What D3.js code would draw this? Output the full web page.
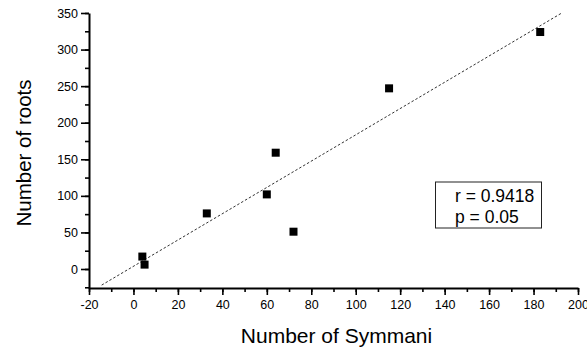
<!DOCTYPE html>
<html>
<head>
<meta charset="utf-8">
<script src="https://cdn.jsdelivr.net/npm/d3@7"></script>
<style>
  body { margin: 0; background: #fff; }
  svg { font-family: "Liberation Sans", Arial, sans-serif; }
</style>
</head>
<body>
<svg id="chart" width="587" height="350"></svg>
<script>
// points
const symmani = [4, 5, 33, 60, 72, 64, 115, 183];
const roots   = [17, 6, 76, 102, 51, 159, 247, 324];

// dashed fit line ends
const fitX = [-14.3, 192.7];
const fitY = [-22, 350];

const xTicks = [-20, 0, 20, 40, 60, 80, 100, 120, 140, 160, 180, 200];
const yTicks = [0, 50, 100, 150, 200, 250, 300, 350];
const statLines = ["r = 0.9418", "p = 0.05"];

var svg = d3.select("#chart");
var pl = 89, pr = 578, pt = 13, pb = 288;

var x = d3.scaleLinear().domain([-20, 200]).range([pl, pr]);
// 0 sits at y=269, 350 at the top
var y0 = d3.scaleLinear().domain([0, 350]).range([269, pt]);
var y = d3.scaleLinear().domain([y0.invert(pb), 350]).range([pb, pt]);

var fmt = d => String(d);

// minor ticks first
svg.append("g")
	.attr("transform", "translate(0," + pb + ")")
	.call(d3.axisBottom(x).tickValues(d3.range(-20, 201, 10)).tickSize(4).tickFormat(""))
	.call(g => g.select(".domain").remove());
svg.append("g")
	.attr("transform", "translate(" + pl + ",0)")
	.call(d3.axisLeft(y).tickValues(d3.range(-25, 351, 25).filter(v => v >= y.domain()[0])).tickSize(4).tickFormat(""))
	.call(g => g.select(".domain").remove());

svg.append("g")
	.attr("transform", "translate(0," + pb + ")")
	.call(d3.axisBottom(x).tickValues(xTicks).tickSize(7).tickPadding(5).tickSizeOuter(0).tickFormat(fmt));
svg.append("g")
	.attr("transform", "translate(" + pl + ",0)")
	.call(d3.axisLeft(y).tickValues(yTicks).tickSize(8).tickPadding(3).tickSizeOuter(0).tickFormat(fmt));

svg.selectAll(".tick line").attr("stroke", "#000").attr("stroke-width", 1.6);
svg.selectAll(".domain").attr("stroke", "#000").attr("stroke-width", 2);
svg.selectAll(".tick text").attr("font-size", 12.5).attr("fill", "#000")
	.attr("font-family", "Liberation Sans, Arial, sans-serif");

// fit line
svg.append("line")
	.attr("x1", x(fitX[0])).attr("y1", y(fitY[0]))
	.attr("x2", x(fitX[1])).attr("y2", y(fitY[1]))
	.attr("stroke", "#333")
	.attr("stroke-width", 1)
	.attr("stroke-dasharray", "2.5,2");

// points
var s = 8;
svg.append("g").selectAll("rect")
	.data(symmani.map((d, i) => ({x: d, y: roots[i]})))
	.join("rect")
	.attr("x", d => x(d.x) - s / 2)
	.attr("y", d => y(d.y) - s / 2)
	.attr("width", s).attr("height", s)
	.attr("fill", "#000");

// stats box
svg.append("rect")
	.attr("x", 435.5).attr("y", 182)
	.attr("width", 106).attr("height", 46)
	.attr("fill", "none").attr("stroke", "#222").attr("stroke-width", 1);
svg.append("g").selectAll("text")
	.data(statLines)
	.join("text")
	.attr("x", 455)
	.attr("y", (d, i) => 201.5 + i * 21.5)
	.attr("font-size", 17.5)
	.attr("fill", "#000")
	.text(d => d);

// axis titles
svg.append("text")
	.attr("x", 336.5).attr("y", 343)
	.attr("text-anchor", "middle")
	.attr("font-size", 21)
	.attr("fill", "#000")
	.text("Number of Symmani");
svg.append("text")
	.attr("transform", "translate(31,153) rotate(-90)")
	.attr("text-anchor", "middle")
	.attr("font-size", 20.5)
	.attr("fill", "#000")
	.text("Number of roots");
</script>
</body>
</html>
